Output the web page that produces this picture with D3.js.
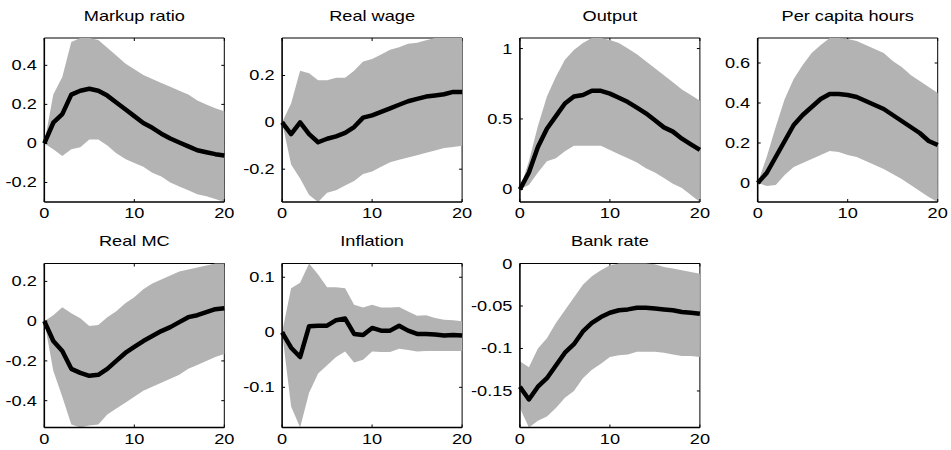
<!DOCTYPE html>
<html>
<head>
<meta charset="utf-8">
<script src="https://cdn.jsdelivr.net/npm/d3@7"></script>
<style>
  body { margin: 0; background: #fff; }
  text { font-family: "Liberation Sans", Helvetica, Arial, sans-serif; font-size: 14px; fill: #000; }
</style>
</head>
<body>
<div id="chart"></div>
<script>
// impulse responses: horizon 0..20, median with lower/upper band
const horizon = d3.range(0, 21);

const titles = ["Markup ratio", "Real wage", "Output", "Per capita hours", "Real MC", "Inflation", "Bank rate"];

const markupMed = [0, 0.106, 0.15, 0.25, 0.27, 0.28, 0.27, 0.245, 0.21, 0.175, 0.14, 0.105, 0.08, 0.05, 0.025, 0.005, -0.015, -0.035, -0.045, -0.055, -0.062];
const markupLo  = [0, -0.03, -0.065, -0.03, -0.02, 0.02, 0.02, -0.01, -0.05, -0.08, -0.1, -0.12, -0.15, -0.17, -0.2, -0.22, -0.24, -0.26, -0.27, -0.285, -0.3];
const markupHi  = [0, 0.25, 0.34, 0.52, 0.54, 0.54, 0.53, 0.49, 0.45, 0.41, 0.38, 0.35, 0.33, 0.31, 0.29, 0.27, 0.25, 0.22, 0.2, 0.18, 0.165];

const wageMed = [0, -0.05, 0, -0.05, -0.085, -0.07, -0.06, -0.045, -0.02, 0.02, 0.03, 0.045, 0.06, 0.075, 0.09, 0.1, 0.11, 0.115, 0.12, 0.13, 0.13];
const wageLo  = [0, -0.18, -0.24, -0.31, -0.34, -0.3, -0.29, -0.27, -0.25, -0.22, -0.21, -0.19, -0.17, -0.16, -0.15, -0.14, -0.13, -0.12, -0.11, -0.105, -0.1];
const wageHi  = [0, 0.08, 0.22, 0.21, 0.18, 0.18, 0.19, 0.19, 0.22, 0.26, 0.27, 0.29, 0.31, 0.32, 0.335, 0.34, 0.35, 0.36, 0.36, 0.36, 0.36];

const outputMed = [0, 0.12, 0.3, 0.43, 0.52, 0.61, 0.66, 0.67, 0.7, 0.7, 0.68, 0.65, 0.62, 0.58, 0.54, 0.49, 0.44, 0.41, 0.36, 0.32, 0.28];
const outputLo  = [0, 0.03, 0.12, 0.2, 0.22, 0.27, 0.31, 0.31, 0.31, 0.31, 0.28, 0.25, 0.22, 0.19, 0.15, 0.12, 0.08, 0.04, 0.01, -0.04, -0.09];
const outputHi  = [0, 0.2, 0.45, 0.66, 0.8, 0.92, 0.99, 1.04, 1.075, 1.075, 1.06, 1.04, 1.0, 0.96, 0.91, 0.86, 0.81, 0.76, 0.71, 0.67, 0.63];

const hoursMed = [0, 0.05, 0.13, 0.21, 0.29, 0.34, 0.38, 0.42, 0.445, 0.445, 0.44, 0.43, 0.41, 0.39, 0.37, 0.34, 0.31, 0.28, 0.25, 0.21, 0.19];
const hoursLo  = [0, -0.015, -0.01, 0.04, 0.08, 0.1, 0.12, 0.14, 0.16, 0.155, 0.14, 0.13, 0.11, 0.09, 0.07, 0.045, 0.02, -0.01, -0.04, -0.07, -0.095];
const hoursHi  = [0, 0.13, 0.28, 0.42, 0.52, 0.59, 0.65, 0.69, 0.725, 0.725, 0.72, 0.71, 0.69, 0.67, 0.65, 0.61, 0.58, 0.54, 0.51, 0.48, 0.45];

const mcMed = [0, -0.1, -0.15, -0.24, -0.26, -0.275, -0.27, -0.24, -0.2, -0.16, -0.13, -0.1, -0.075, -0.05, -0.03, -0.005, 0.02, 0.03, 0.045, 0.06, 0.065];
const mcLo  = [0, -0.25, -0.38, -0.52, -0.535, -0.525, -0.52, -0.47, -0.44, -0.41, -0.38, -0.35, -0.33, -0.31, -0.29, -0.27, -0.24, -0.22, -0.2, -0.18, -0.165];
const mcHi  = [0, 0.03, 0.07, 0.04, 0.015, -0.025, -0.02, 0.02, 0.05, 0.09, 0.12, 0.16, 0.19, 0.21, 0.23, 0.25, 0.26, 0.27, 0.28, 0.29, 0.29];

const inflMed = [0, -0.028, -0.045, 0.011, 0.012, 0.012, 0.022, 0.025, -0.003, -0.005, 0.008, 0.003, 0.003, 0.012, 0.003, -0.003, -0.003, -0.004, -0.006, -0.005, -0.006];
const inflLo  = [0, -0.135, -0.173, -0.11, -0.075, -0.06, -0.045, -0.035, -0.055, -0.05, -0.035, -0.036, -0.036, -0.03, -0.032, -0.035, -0.034, -0.034, -0.034, -0.034, -0.034];
const inflHi  = [0, 0.08, 0.09, 0.125, 0.105, 0.082, 0.082, 0.08, 0.05, 0.045, 0.05, 0.045, 0.045, 0.046, 0.038, 0.03, 0.031, 0.026, 0.023, 0.022, 0.02];

const rateMed = [-0.145, -0.16, -0.145, -0.135, -0.12, -0.105, -0.095, -0.08, -0.07, -0.063, -0.058, -0.055, -0.054, -0.052, -0.052, -0.053, -0.054, -0.055, -0.057, -0.058, -0.059];
const rateLo  = [-0.17, -0.193, -0.185, -0.18, -0.17, -0.158, -0.15, -0.135, -0.125, -0.118, -0.11, -0.108, -0.107, -0.104, -0.104, -0.104, -0.105, -0.107, -0.109, -0.109, -0.11];
const rateHi  = [-0.115, -0.122, -0.1, -0.088, -0.07, -0.055, -0.04, -0.025, -0.015, -0.008, -0.002, 0, 0, 0, 0, -0.001, -0.004, -0.006, -0.008, -0.01, -0.012];

const xTicks = [0, 10, 20];
const yTicks = [
  [-0.2, 0, 0.2, 0.4],
  [-0.2, 0, 0.2],
  [0, 0.5, 1],
  [0, 0.2, 0.4, 0.6],
  [-0.4, -0.2, 0, 0.2],
  [-0.1, 0, 0.1],
  [-0.15, -0.1, -0.05, 0]
];
const yTickLabels = [
  ["-0.2", "0", "0.2", "0.4"],
  ["-0.2", "0", "0.2"],
  ["0", "0.5", "1"],
  ["0", "0.2", "0.4", "0.6"],
  ["-0.4", "-0.2", "0", "0.2"],
  ["-0.1", "0", "0.1"],
  ["-0.15", "-0.1", "-0.05", "0"]
];

const medians = [markupMed, wageMed, outputMed, hoursMed, mcMed, inflMed, rateMed];
const lowers  = [markupLo, wageLo, outputLo, hoursLo, mcLo, inflLo, rateLo];
const uppers  = [markupHi, wageHi, outputHi, hoursHi, mcHi, inflHi, rateHi];

// layout (subplot 2x4)
const W = 951, H = 450;
const plotW = 180, plotH = 164;
const colStep = 237.8;
const left0 = 44.3;
const rowTops = [38, 263.5];
const stretch = 1.3;   // text in the original is stretched horizontally

const svg = d3.select("#chart").append("svg")
  .attr("width", W)
  .attr("height", H);

function stretchedText(g, x, y, str, anchor) {
  g.append("text")
    .attr("transform", "translate(" + x + "," + y + ") scale(" + stretch + ",1)")
    .attr("text-anchor", anchor)
    .text(str);
}

titles.forEach(function(title, i) {
  let col = i % 4, row = Math.floor(i / 4);
  let x0 = left0 + col * colStep;
  let y0 = rowTops[row];

  let g = svg.append("g").attr("transform", "translate(" + x0 + "," + y0 + ")");

  let lo = lowers[i], hi = uppers[i], med = medians[i];

  let xScale = d3.scaleLinear().domain([0, 20]).range([0, plotW]);
  let yScale = d3.scaleLinear()
    .domain([d3.min(lo), d3.max(hi)])
    .range([plotH, 0]);

  // top and right borders sit under the band
  g.append("line").attr("x1", 0).attr("x2", plotW).attr("y1", 0).attr("y2", 0)
    .attr("stroke", "#000").attr("stroke-width", 1);
  g.append("line").attr("x1", plotW).attr("x2", plotW).attr("y1", 0).attr("y2", plotH)
    .attr("stroke", "#000").attr("stroke-width", 1);
  xTicks.forEach(function(t) {
    g.append("line").attr("x1", xScale(t)).attr("x2", xScale(t)).attr("y1", 0).attr("y2", 3)
      .attr("stroke", "#000");
  });
  yTicks[i].forEach(function(t) {
    g.append("line").attr("x1", plotW).attr("x2", plotW - 3).attr("y1", yScale(t)).attr("y2", yScale(t))
      .attr("stroke", "#000");
  });

  let area = d3.area()
    .x(function(d) { return xScale(d); })
    .y0(function(d) { return yScale(lo[d]); })
    .y1(function(d) { return yScale(hi[d]); });

  g.append("path")
    .datum(horizon)
    .attr("d", area)
    .attr("fill", "#b3b3b3");

  let line = d3.line()
    .x(function(d) { return xScale(d); })
    .y(function(d) { return yScale(med[d]); });

  g.append("path")
    .datum(horizon)
    .attr("d", line)
    .attr("fill", "none")
    .attr("stroke", "#000")
    .attr("stroke-width", 4.5)
    .attr("stroke-linejoin", "round");

  // left + bottom axes on top
  g.append("line").attr("x1", 0).attr("x2", 0).attr("y1", 0).attr("y2", plotH)
    .attr("stroke", "#000").attr("stroke-width", 1.6);
  g.append("line").attr("x1", 0).attr("x2", plotW).attr("y1", plotH).attr("y2", plotH)
    .attr("stroke", "#000").attr("stroke-width", 1.6);
  xTicks.forEach(function(t) {
    g.append("line").attr("x1", xScale(t)).attr("x2", xScale(t)).attr("y1", plotH).attr("y2", plotH - 3)
      .attr("stroke", "#000");
    stretchedText(g, xScale(t), plotH + 16.3, String(t), "middle");
  });
  yTicks[i].forEach(function(t, k) {
    g.append("line").attr("x1", 0).attr("x2", 3).attr("y1", yScale(t)).attr("y2", yScale(t))
      .attr("stroke", "#000");
    stretchedText(g, -7.5, yScale(t) + 5, yTickLabels[i][k], "end");
  });

  stretchedText(g, plotW / 2, -17.5, title, "middle");
});
</script>
</body>
</html>
